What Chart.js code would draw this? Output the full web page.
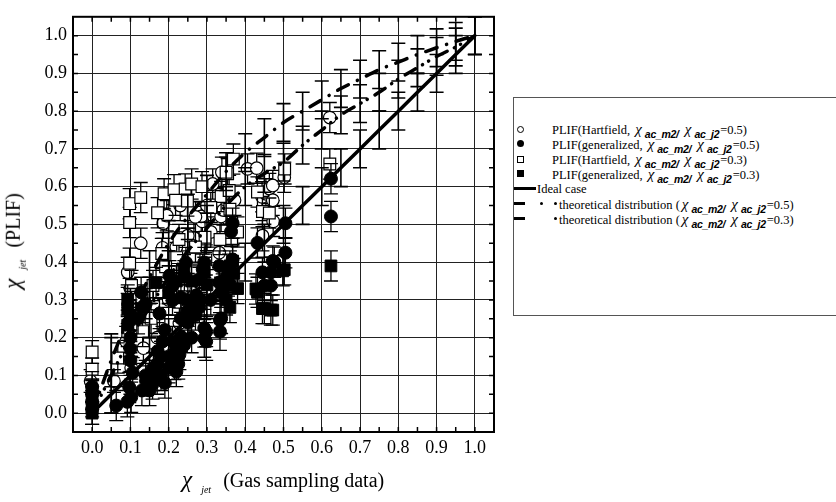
<!DOCTYPE html>
<html>
<head>
<meta charset="utf-8">
<script src="https://cdn.jsdelivr.net/npm/chart.js@4"></script>
<style>
  body { margin: 0; background: #fff; }
  #wrap { position: relative; width: 836px; height: 502px; overflow: hidden; font-family: 'Liberation Serif', 'Times New Roman', serif; }
  #chart { position: absolute; left: 0; top: 0; }
  .chi { font-style: italic; font-size: 15px; font-family: 'Liberation Serif', serif; margin-left: 2px; }
  .lsub { font: italic bold 10.5px 'Liberation Sans', Arial, sans-serif; position: relative; top: 4px; margin: 0 1px 0 3px; letter-spacing: -0.3px; }
  #legend { position: absolute; left: 513px; top: 97px; width: 340px; height: 219px; border: 1px solid #555; box-sizing: border-box; background: #fff; }
  #legend .t { position: absolute; font-size: 12.5px; line-height: 14px; white-space: nowrap; color: #000; }
  #legend .s { position: absolute; background: #000; }
  .ttl { position: absolute; white-space: nowrap; font-size: 20px; color: #000; }
  .ttl .big { font-style: italic; font-size: 23px; }
  .ttl .jet { font-style: italic; font-size: 10px; position: relative; top: 6px; margin: 0 12px 0 9px; }
</style>
</head>
<body>
<div id="wrap">
  <canvas id="chart" width="836" height="502"></canvas>

  <div class="ttl" style="left:182px; top:467px;"><span class="big">χ</span><span class="jet">jet</span>(Gas sampling data)</div>
  <div class="ttl" style="left:-35px; top:228px; transform: rotate(-90deg); transform-origin: 50% 50%;"><span class="big">χ</span><span class="jet">jet</span>(PLIF)</div>

  <div id="legend">
    <div class="s" style="left:3px; top:28px; width:5px; height:5px; border:1px solid #000; border-radius:50%; background:#fff;"></div>
    <div class="t" style="left:38px; top:24px;">PLIF(Hartfield, <span class="chi">χ</span><span class="lsub">ac_m2/</span> <span class="chi">χ</span><span class="lsub">ac_j2</span>=0.5)</div>

    <div class="s" style="left:3px; top:42px; width:7px; height:7px; border-radius:50%;"></div>
    <div class="t" style="left:38px; top:39px;">PLIF(generalized, <span class="chi">χ</span><span class="lsub">ac_m2/</span> <span class="chi">χ</span><span class="lsub">ac_j2</span>=0.5)</div>

    <div class="s" style="left:3px; top:58px; width:5px; height:5px; border:1px solid #000; background:#fff;"></div>
    <div class="t" style="left:38px; top:54px;">PLIF(Hartfield, <span class="chi">χ</span><span class="lsub">ac_m2/</span> <span class="chi">χ</span><span class="lsub">ac_j2</span>=0.3)</div>

    <div class="s" style="left:3px; top:72px; width:7px; height:7px;"></div>
    <div class="t" style="left:38px; top:69px;">PLIF(generalized, <span class="chi">χ</span><span class="lsub">ac_m2/</span> <span class="chi">χ</span><span class="lsub">ac_j2</span>=0.3)</div>

    <div class="s" style="left:0px; top:89px; width:22px; height:3px;"></div>
    <div class="t" style="left:23px; top:84px;">Ideal case</div>

    <div class="s" style="left:0px; top:104px; width:11px; height:3px;"></div>
    <div class="s" style="left:26px; top:104px; width:3px; height:3px; border-radius:50%;"></div>
    <div class="s" style="left:40px; top:104px; width:3px; height:3px; border-radius:50%;"></div>
    <div class="t" style="left:45px; top:99px;">theoretical distribution (<span class="chi">χ</span><span class="lsub">ac_m2/</span> <span class="chi">χ</span><span class="lsub">ac_j2</span>=0.5)</div>

    <div class="s" style="left:0px; top:119px; width:11px; height:3px;"></div>
    <div class="s" style="left:40px; top:119px; width:3px; height:3px; border-radius:50%;"></div>
    <div class="t" style="left:45px; top:114px;">theoretical distribution (<span class="chi">χ</span><span class="lsub">ac_m2/</span> <span class="chi">χ</span><span class="lsub">ac_j2</span>=0.3)</div>
  </div>
</div>

<script>
// axis values
const tickLabels = [0.0, 0.1, 0.2, 0.3, 0.4, 0.5, 0.6, 0.7, 0.8, 0.9, 1.0];
const tickMarks = [0.0, 0.05, 0.1, 0.15, 0.2, 0.25, 0.3, 0.35, 0.4, 0.45, 0.5, 0.55, 0.6, 0.65, 0.7, 0.75, 0.8, 0.85, 0.9, 0.95, 1.0];

// ideal case and theoretical distributions
const lineX = [0.0, 0.05, 0.1, 0.15, 0.2, 0.25, 0.3, 0.35, 0.4, 0.45, 0.5, 0.55, 0.6, 0.65, 0.7, 0.75, 0.8, 0.85, 0.9, 0.95, 1.0];
const idealY = [0.0, 0.05, 0.1, 0.15, 0.2, 0.25, 0.3, 0.35, 0.4, 0.45, 0.5, 0.55, 0.6, 0.65, 0.7, 0.75, 0.8, 0.85, 0.9, 0.95, 1.0];
const idealErr = [0, 0.05, 0.05, 0.05, 0.05, 0.05, 0.05, 0.05, 0.05, 0.05, 0.05, 0.05, 0.05, 0.05, 0.05, 0.05, 0.05, 0.05, 0.05, 0.05, 0.05];
const theory05Y = [0.0, 0.10, 0.20, 0.28, 0.36, 0.43, 0.49, 0.55, 0.60, 0.635, 0.665, 0.71, 0.75, 0.79, 0.82, 0.85, 0.885, 0.915, 0.945, 0.97, 1.0];
const theory05Err = [0, 0.10, 0.09, 0.08, 0.07, 0.06, 0.06, 0.05, 0.05, 0.05, 0.05, 0.05, 0.05, 0.05, 0.05, 0.05, 0.05, 0.05, 0.05, 0.05, 0.05];
const theory03Y = [0.0, 0.14, 0.26, 0.36, 0.45, 0.52, 0.58, 0.64, 0.69, 0.73, 0.77, 0.80, 0.83, 0.86, 0.885, 0.91, 0.93, 0.95, 0.968, 0.985, 1.0];
const theory03Err = [0, 0.07, 0.07, 0.07, 0.06, 0.06, 0.05, 0.05, 0.05, 0.05, 0.05, 0.05, 0.05, 0.05, 0.05, 0.05, 0.05, 0.05, 0.05, 0.05, 0.05];

// measured points [x, y, error]
const hartfield05 = [
  [-0.004,0.085,0.03],[0.057,0.085,0.03],[0.102,0.12,0.03],[0.089,0.19,0.04],[0.134,0.172,0.04],
  [0.228,0.238,0.04],[0.28,0.346,0.04],[0.093,0.373,0.04],[0.127,0.45,0.04],[0.184,0.438,0.04],
  [0.186,0.503,0.04],[0.195,0.523,0.04],[0.266,0.464,0.04],[0.288,0.508,0.04],[0.285,0.521,0.04],
  [0.337,0.521,0.04],[0.341,0.555,0.04],[0.339,0.638,0.04],[0.343,0.538,0.04],[0.332,0.425,0.04],
  [0.372,0.564,0.04],[0.406,0.647,0.04],[0.43,0.649,0.04],[0.444,0.573,0.04],[0.454,0.581,0.04],
  [0.463,0.595,0.04],[0.472,0.603,0.04],[0.472,0.564,0.04],[0.473,0.508,0.04],[0.445,0.47,0.04],
  [0.502,0.625,0.04],[0.621,0.783,0.04],[0.3,0.55,0.04],[0.315,0.607,0.04],[0.31,0.48,0.04],
  [0.25,0.47,0.04],[0.22,0.44,0.04],[0.16,0.29,0.04],[0.2,0.3,0.04],[0.24,0.33,0.04],
  [0.1,0.33,0.04],[0.27,0.52,0.04],[0.23,0.55,0.04],[0.17,0.2,0.04]
];
const generalized05 = [
  [0.0,0.01,0.04],[0.0,0.03,0.04],[0.0,0.05,0.04],[0.0,0.07,0.04],
  [0.063,0.02,0.04],[0.092,0.03,0.04],[0.102,0.042,0.04],[0.097,0.068,0.04],[0.106,0.107,0.04],
  [0.10,0.14,0.04],[0.10,0.17,0.04],[0.10,0.20,0.04],[0.095,0.24,0.04],[0.128,0.32,0.04],
  [0.141,0.085,0.04],[0.158,0.077,0.04],[0.158,0.10,0.04],[0.15,0.06,0.04],[0.171,0.164,0.04],
  [0.184,0.19,0.04],[0.17,0.13,0.04],[0.18,0.15,0.04],[0.176,0.264,0.04],[0.19,0.22,0.04],
  [0.21,0.299,0.04],[0.232,0.307,0.04],[0.202,0.364,0.04],[0.228,0.155,0.04],[0.215,0.129,0.04],
  [0.21,0.19,0.04],[0.232,0.203,0.04],[0.232,0.251,0.04],[0.22,0.11,0.04],[0.225,0.13,0.04],
  [0.272,0.312,0.04],[0.28,0.355,0.04],[0.289,0.381,0.04],[0.263,0.281,0.04],[0.298,0.216,0.04],
  [0.298,0.19,0.05],[0.293,0.225,0.05],[0.293,0.198,0.05],[0.25,0.24,0.04],[0.26,0.2,0.04],
  [0.27,0.26,0.04],[0.334,0.246,0.05],[0.334,0.216,0.05],[0.337,0.251,0.04],[0.341,0.338,0.04],
  [0.358,0.381,0.04],[0.367,0.407,0.04],[0.337,0.32,0.04],[0.35,0.36,0.04],[0.36,0.34,0.04],
  [0.21,0.338,0.04],[0.241,0.364,0.04],[0.245,0.399,0.04],[0.293,0.399,0.04],[0.332,0.346,0.04],
  [0.332,0.39,0.04],[0.367,0.503,0.04],[0.363,0.481,0.04],[0.432,0.451,0.04],[0.505,0.503,0.04],
  [0.505,0.425,0.04],[0.476,0.40,0.04],[0.445,0.373,0.04],[0.467,0.373,0.04],[0.45,0.338,0.04],
  [0.467,0.338,0.04],[0.472,0.403,0.04],[0.624,0.621,0.04],[0.624,0.521,0.04],[0.13,0.28,0.04],
  [0.12,0.25,0.04],[0.14,0.29,0.04],[0.13,0.06,0.04],[0.14,0.10,0.04],[0.16,0.12,0.04],
  [0.18,0.10,0.04],[0.20,0.15,0.04],[0.20,0.12,0.04],[0.22,0.17,0.04],[0.24,0.18,0.04],
  [0.19,0.08,0.04],[0.17,0.09,0.04],[0.25,0.27,0.04],[0.28,0.28,0.04],[0.31,0.30,0.04]
];
const hartfield03 = [
  [0.0,0.162,0.03],[0.0,0.116,0.03],[0.067,0.146,0.04],[0.093,0.216,0.04],[0.132,0.216,0.04],
  [0.154,0.251,0.04],[0.098,0.555,0.04],[0.127,0.571,0.04],[0.098,0.505,0.04],[0.188,0.581,0.04],
  [0.214,0.592,0.04],[0.243,0.594,0.04],[0.26,0.607,0.04],[0.287,0.6,0.04],[0.171,0.531,0.04],
  [0.249,0.562,0.04],[0.218,0.564,0.04],[0.227,0.46,0.04],[0.295,0.466,0.04],[0.182,0.423,0.04],
  [0.221,0.412,0.04],[0.192,0.388,0.04],[0.098,0.397,0.04],[0.103,0.338,0.04],[0.159,0.338,0.04],
  [0.297,0.406,0.04],[0.337,0.574,0.04],[0.358,0.59,0.04],[0.354,0.634,0.04],[0.369,0.673,0.04],
  [0.334,0.46,0.04],[0.432,0.586,0.04],[0.445,0.534,0.04],[0.463,0.53,0.04],[0.503,0.647,0.04],
  [0.621,0.66,0.04],[0.35,0.638,0.04],[0.31,0.545,0.04],[0.27,0.44,0.04],[0.36,0.54,0.04],
  [0.38,0.48,0.04],[0.13,0.3,0.04]
];
const generalized03 = [
  [0.0,0.0,0.03],[0.0,0.03,0.03],[0.0,0.06,0.03],[0.093,0.277,0.04],[0.093,0.233,0.04],
  [0.093,0.30,0.04],[0.1,0.26,0.04],[0.167,0.346,0.04],[0.2,0.32,0.04],[0.22,0.35,0.04],
  [0.24,0.38,0.04],[0.26,0.35,0.04],[0.3,0.34,0.04],[0.293,0.373,0.04],[0.341,0.329,0.04],
  [0.367,0.403,0.04],[0.36,0.39,0.04],[0.37,0.37,0.04],[0.35,0.30,0.04],[0.36,0.28,0.04],
  [0.428,0.329,0.04],[0.432,0.32,0.04],[0.445,0.277,0.04],[0.467,0.273,0.04],[0.45,0.277,0.04],
  [0.472,0.273,0.04],[0.498,0.377,0.04],[0.502,0.38,0.04],[0.624,0.39,0.04],[0.38,0.33,0.04],
  [0.355,0.35,0.04],[0.25,0.30,0.04],[0.28,0.3,0.04]
];

const toPoints = arr => arr.map(p => ({ x: p[0], y: p[1] }));
const toErrors = arr => arr.map(p => p[2]);
const linePoints = ys => lineX.map((x, i) => ({ x: x, y: ys[i] }));

// vertical error bars with caps, drawn just under each dataset
const errorBars = {
  id: 'errorBars',
  beforeDatasetDraw(chart, args) {
    const ds = chart.data.datasets[args.index];
    if (!ds.errors) return;
    const { ctx, chartArea, scales: { x, y } } = chart;
    ctx.save();
    ctx.beginPath();
    ctx.rect(chartArea.left, chartArea.top - 1, chartArea.right - chartArea.left, chartArea.bottom - chartArea.top + 2);
    ctx.clip();
    ctx.strokeStyle = '#000';
    ctx.lineWidth = ds.errorWidth || 1.3;
    ds.data.forEach((p, i) => {
      const e = ds.errors[i];
      if (!e) return;
      const px = x.getPixelForValue(p.x);
      const top = y.getPixelForValue(p.y + e);
      const bot = y.getPixelForValue(p.y - e);
      ctx.beginPath();
      ctx.moveTo(px, top); ctx.lineTo(px, bot);
      ctx.moveTo(px - 7, top); ctx.lineTo(px + 7, top);
      ctx.moveTo(px - 7, bot); ctx.lineTo(px + 7, bot);
      ctx.stroke();
    });
    ctx.restore();
  }
};

// frame and inward ticks on all four sides
const frame = {
  id: 'frame',
  afterDatasetsDraw(chart) {
    const { ctx, chartArea: { left, right, top, bottom }, scales: { x, y } } = chart;
    ctx.save();
    ctx.strokeStyle = '#000';
    ctx.lineWidth = 1.5;
    ctx.beginPath();
    tickMarks.forEach(v => {
      const px = x.getPixelForValue(v);
      const py = y.getPixelForValue(v);
      ctx.moveTo(px, bottom); ctx.lineTo(px, bottom - 5);
      ctx.moveTo(px, top); ctx.lineTo(px, top + 5);
      ctx.moveTo(left, py); ctx.lineTo(left + 5, py);
      ctx.moveTo(right, py); ctx.lineTo(right - 5, py);
    });
    ctx.stroke();
    ctx.lineWidth = 2;
    ctx.strokeRect(left, top, right - left, bottom - top);
    ctx.restore();
  }
};

const fixedTicks = scale => { scale.ticks = tickLabels.map(v => ({ value: v })); };

new Chart(document.getElementById('chart'), {
  type: 'scatter',
  data: {
    datasets: [
      {
        label: 'Ideal case',
        data: linePoints(idealY), errors: idealErr, errorWidth: 1.6,
        showLine: true, pointRadius: 0, borderColor: '#000', borderWidth: 3.5
      },
      {
        label: 'theoretical distribution (0.5)',
        data: linePoints(theory05Y), errors: theory05Err, errorWidth: 1.6,
        showLine: true, pointRadius: 0, borderColor: '#000', borderWidth: 3.5,
        borderDash: [12, 8, 0.1, 7, 0.1, 9], borderCapStyle: 'round', cubicInterpolationMode: 'monotone'
      },
      {
        label: 'theoretical distribution (0.3)',
        data: linePoints(theory03Y), errors: theory03Err, errorWidth: 1.6,
        showLine: true, pointRadius: 0, borderColor: '#000', borderWidth: 3.5,
        borderDash: [12, 10, 0.1, 10], borderCapStyle: 'round', cubicInterpolationMode: 'monotone'
      },
      {
        label: 'PLIF(generalized, 0.5)',
        data: toPoints(generalized05), errors: toErrors(generalized05),
        pointStyle: 'circle', pointRadius: 6.5, backgroundColor: '#000', borderColor: '#000', borderWidth: 1
      },
      {
        label: 'PLIF(generalized, 0.3)',
        data: toPoints(generalized03), errors: toErrors(generalized03),
        pointStyle: 'rect', pointRadius: 8.3, backgroundColor: '#000', borderColor: '#000', borderWidth: 1
      },
      {
        label: 'PLIF(Hartfield, 0.3)',
        data: toPoints(hartfield03), errors: toErrors(hartfield03),
        pointStyle: 'rect', pointRadius: 8.3, backgroundColor: '#fff', borderColor: '#000', borderWidth: 1.2
      },
      {
        label: 'PLIF(Hartfield, 0.5)',
        data: toPoints(hartfield05), errors: toErrors(hartfield05),
        pointStyle: 'circle', pointRadius: 6.3, backgroundColor: '#fff', borderColor: '#000', borderWidth: 1.2
      }
    ]
  },
  options: {
    responsive: false,
    animation: false,
    devicePixelRatio: 1,
    layout: { padding: { left: 0, top: 11, right: 342, bottom: 0 } },
    plugins: { legend: { display: false }, tooltip: { enabled: false } },
    scales: {
      x: {
        type: 'linear', min: -0.05, max: 1.05,
        afterBuildTicks: fixedTicks,
        afterFit: s => { s.height = 70; },
        grid: { color: '#222', lineWidth: 1, drawTicks: false },
        border: { display: false },
        ticks: { padding: 5, color: '#000', font: { family: "'Liberation Serif', 'Times New Roman', serif", size: 18 }, callback: v => v.toFixed(1), maxRotation: 0 }
      },
      y: {
        type: 'linear', min: -0.05, max: 1.05,
        afterBuildTicks: fixedTicks,
        afterFit: s => { s.width = 73; },
        grid: { color: '#222', lineWidth: 1, drawTicks: false },
        border: { display: false },
        ticks: { padding: 6, color: '#000', font: { family: "'Liberation Serif', 'Times New Roman', serif", size: 18 }, callback: v => v.toFixed(1) }
      }
    }
  },
  plugins: [errorBars, frame]
});
</script>
</body>
</html>
